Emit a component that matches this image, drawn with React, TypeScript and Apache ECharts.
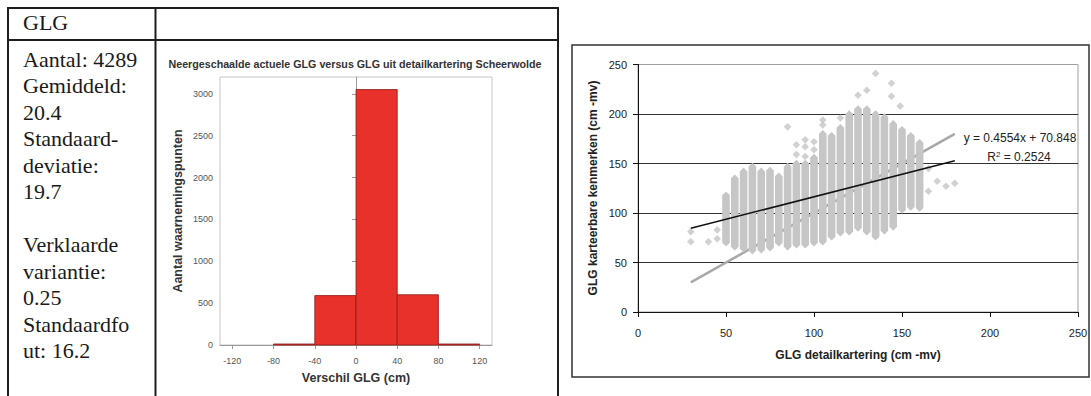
import React, { useEffect, useRef } from "react";
import * as echarts from "echarts";

// ---- Table text ----
const tableHeader = "GLG";
const tableLines = [
  "Aantal: 4289",
  "Gemiddeld:",
  "20.4",
  "Standaard-",
  "deviatie:",
  "19.7",
  "",
  "Verklaarde",
  "variantie:",
  "0.25",
  "Standaardfo",
  "ut: 16.2",
];

// ---- Histogram ----
const histTitle = "Neergeschaalde actuele GLG versus GLG uit detailkartering Scheerwolde";
const histXName = "Verschil GLG (cm)";
const histYName = "Aantal waarnemingspunten";
const histBinStart = [-80, -40, 0, 40, 80];
const histBinEnd = [-40, 0, 40, 80, 120];
const histCounts = [12, 590, 3050, 600, 12];
const histXTicks = [-120, -80, -40, 0, 40, 80, 120];
const histYTicks = [0, 500, 1000, 1500, 2000, 2500, 3000];

// ---- Scatter ----
const scXName = "GLG detailkartering (cm -mv)";
const scYName = "GLG karteerbare kenmerken (cm -mv)";
const trendText = "y = 0.4554x + 70.848";
const r2Value = "0.2524";
// dense columns of points (x, lowest y, highest y)
const colX = [50, 55, 60, 65, 70, 75, 80, 85, 90, 95, 100, 105, 110, 115, 120, 125, 130, 135, 140, 145, 150, 155, 160];
const colLow = [70, 66, 64, 62, 63, 65, 70, 66, 68, 68, 70, 71, 76, 80, 81, 85, 81, 76, 82, 86, 103, 106, 105];
const colHigh = [118, 135, 142, 147, 142, 143, 137, 147, 150, 150, 156, 180, 178, 186, 200, 205, 205, 200, 197, 190, 184, 178, 171];
// isolated points
const outX = [30, 30, 40, 45, 45, 85, 90, 90, 95, 95, 95, 100, 100, 105, 105, 115, 125, 130, 135, 144, 144, 149, 160, 165, 165, 170, 175, 180];
const outY = [81, 71, 71, 83, 74, 187, 169, 159, 174, 167, 157, 164, 172, 189, 194, 196, 219, 224, 241, 231, 218, 208, 158, 145, 122, 132, 127, 130];
// regression line (black) and 1:1 line (grey)
const regX = [30, 180];
const regY = [84.5, 152.8];
const diagX = [30, 180];
const diagY = [30, 180];

const SANS = "'Liberation Sans', Arial, sans-serif";
const SERIF = "'Liberation Serif', 'Times New Roman', serif";

export default function App() {
  const ref = useRef<HTMLDivElement>(null);

  useEffect(() => {
    if (!ref.current) return;
    const chart = echarts.init(ref.current, null, { renderer: "svg" });

    const graphics: any[] = [];
    // table borders
    const lineStyle = { stroke: "#1e1e1e", lineWidth: 2 };
    const tl = (x1: number, y1: number, x2: number, y2: number) =>
      graphics.push({ type: "line", shape: { x1, y1, x2, y2 }, style: lineStyle, z: 10 });
    tl(7, 8, 559, 8);
    tl(8, 7, 8, 396);
    tl(155.5, 8, 155.5, 396);
    tl(558, 7, 558, 396);
    tl(8, 40, 558, 40);

    graphics.push({
      type: "text",
      x: 23,
      y: 22,
      style: { text: tableHeader, font: `22px ${SERIF}`, fill: "#1a1a1a", textVerticalAlign: "middle" },
    });
    tableLines.forEach((t, i) => {
      if (!t) return;
      graphics.push({
        type: "text",
        x: 23,
        y: 59 + 26.5 * i,
        style: { text: t, font: `22px ${SERIF}`, fill: "#1a1a1a", textVerticalAlign: "middle" },
      });
    });

    // histogram title & names
    graphics.push({
      type: "text",
      x: 355,
      y: 64,
      style: { text: histTitle, font: `bold 10.7px ${SANS}`, fill: "#333", textAlign: "center", textVerticalAlign: "middle" },
    });
    graphics.push({
      type: "text",
      x: 356,
      y: 378,
      style: { text: histXName, font: `bold 12.5px ${SANS}`, fill: "#333", textAlign: "center", textVerticalAlign: "middle" },
    });
    graphics.push({
      type: "text",
      x: 178,
      y: 211,
      rotation: Math.PI / 2,
      style: { text: histYName, font: `bold 12.5px ${SANS}`, fill: "#333", textAlign: "center", textVerticalAlign: "middle" },
    });

    // scatter frame & texts
    graphics.push({
      type: "rect",
      shape: { x: 572, y: 45, width: 517, height: 332 },
      style: { fill: "none", stroke: "#333", lineWidth: 1.5 },
      z: 10,
    });
    graphics.push({
      type: "text",
      x: 858,
      y: 355,
      style: { text: scXName, font: `bold 12px ${SANS}`, fill: "#222", textAlign: "center", textVerticalAlign: "middle" },
    });
    graphics.push({
      type: "text",
      x: 593,
      y: 188,
      rotation: Math.PI / 2,
      style: { text: scYName, font: `bold 12px ${SANS}`, fill: "#222", textAlign: "center", textVerticalAlign: "middle" },
    });
    graphics.push({
      type: "text",
      x: 1020,
      y: 138,
      style: { text: trendText, font: `12px ${SANS}`, fill: "#222", textAlign: "center", textVerticalAlign: "middle" },
    });
    graphics.push({
      type: "text",
      x: 1019,
      y: 157,
      style: {
        text: "{a|R}{s|2}{a| = " + r2Value + "}",
        textAlign: "center",
        textVerticalAlign: "middle",
        rich: {
          a: { font: `12px ${SANS}`, fill: "#222" },
          s: { font: `8px ${SANS}`, fill: "#222", verticalAlign: "top", padding: [0, 0, 6, 0] },
        },
      },
    });

    const histData = histBinStart.map((s, i) => [s, histBinEnd[i], histCounts[i]]);
    const colData = colX.map((x, i) => [x, colLow[i], colHigh[i]]);
    const outData = outX.map((x, i) => [x, outY[i]]);
    const plain = (v: number) => String(v);

    chart.setOption({
      animation: false,
      backgroundColor: "#fff",
      textStyle: { fontFamily: SANS },
      grid: [
        { left: 220, top: 77, width: 272, height: 268, show: true, borderColor: "#c4c4c4", borderWidth: 1 },
        { left: 638, top: 64.5, width: 440, height: 247.5, show: true, borderColor: "#a0a0a0", borderWidth: 1 },
      ],
      xAxis: [
        {
          type: "value",
          gridIndex: 0,
          min: -132,
          max: 132,
          splitLine: { show: false },
          axisLine: { show: true, lineStyle: { color: "#9a9a9a", width: 1 } },
          axisTick: { show: true, customValues: histXTicks, length: 4, lineStyle: { color: "#9a9a9a" } },
          axisLabel: { customValues: histXTicks, fontSize: 9, color: "#555", margin: 11, formatter: plain },
        },
        {
          type: "value",
          gridIndex: 1,
          min: 0,
          max: 250,
          interval: 50,
          splitLine: { show: false },
          axisLine: { show: true, lineStyle: { color: "#111", width: 1 } },
          axisTick: { show: true, length: 5, lineStyle: { color: "#111" } },
          axisLabel: { fontSize: 11, color: "#222", margin: 15, formatter: plain },
        },
      ],
      yAxis: [
        {
          type: "value",
          gridIndex: 0,
          min: 0,
          max: 3200,
          splitLine: { show: false },
          axisLine: { show: true, lineStyle: { color: "#9a9a9a", width: 1 } },
          axisTick: { show: true, customValues: histYTicks, length: 4, lineStyle: { color: "#9a9a9a" } },
          axisLabel: { customValues: histYTicks, fontSize: 9, color: "#555", margin: 7, formatter: plain },
        },
        {
          type: "value",
          gridIndex: 1,
          min: 0,
          max: 250,
          interval: 50,
          splitLine: {
            show: true,
            lineStyle: { color: ["#333", "#333", "#333", "#333", "#333", "#a0a0a0"], width: 1 },
          },
          axisLine: { show: true, lineStyle: { color: "#111", width: 1 } },
          axisTick: { show: true, length: 5, lineStyle: { color: "#111" } },
          axisLabel: { fontSize: 11, color: "#222", margin: 11, formatter: plain },
        },
      ],
      series: [
        {
          type: "custom",
          xAxisIndex: 0,
          yAxisIndex: 0,
          data: histData,
          encode: { x: [0, 1], y: 2 },
          renderItem: (params: any, api: any) => {
            const p1 = api.coord([api.value(0), api.value(2)]);
            const p2 = api.coord([api.value(1), 0]);
            return {
              type: "rect",
              shape: { x: p1[0], y: p1[1], width: p2[0] - p1[0], height: p2[1] - p1[1] },
              style: { fill: "#E8312A", stroke: "#8e1a14", lineWidth: 0.8 },
            };
          },
          z: 3,
        },
        {
          type: "line",
          xAxisIndex: 1,
          yAxisIndex: 1,
          data: diagX.map((x, i) => [x, diagY[i]]),
          symbol: "none",
          lineStyle: { color: "#a8a8a8", width: 2.5 },
          z: 2,
        },
        {
          type: "custom",
          xAxisIndex: 1,
          yAxisIndex: 1,
          data: colData,
          encode: { x: 0, y: [1, 2] },
          renderItem: (params: any, api: any) => {
            const x = api.value(0);
            const top = api.coord([x, api.value(2)]);
            const bot = api.coord([x, api.value(1)]);
            const h = 3.8;
            return {
              type: "polygon",
              shape: {
                points: [
                  [top[0], top[1] - h],
                  [top[0] + h, top[1]],
                  [bot[0] + h, bot[1]],
                  [bot[0], bot[1] + h],
                  [bot[0] - h, bot[1]],
                  [top[0] - h, top[1]],
                ],
              },
              style: { fill: "#c6c6c6" },
            };
          },
          z: 3,
        },
        {
          type: "scatter",
          xAxisIndex: 1,
          yAxisIndex: 1,
          data: outData,
          symbol: "diamond",
          symbolSize: 7.6,
          itemStyle: { color: "#c6c6c6" },
          z: 3,
        },
        {
          type: "line",
          xAxisIndex: 1,
          yAxisIndex: 1,
          data: regX.map((x, i) => [x, regY[i]]),
          symbol: "none",
          lineStyle: { color: "#111", width: 1.5 },
          z: 4,
        },
      ],
      graphic: graphics,
    });

    return () => chart.dispose();
  }, []);

  return (
    <div
      ref={ref}
      style={{ position: "fixed", left: 0, top: 0, width: 1091, height: 396, background: "#fff" }}
    />
  );
}
